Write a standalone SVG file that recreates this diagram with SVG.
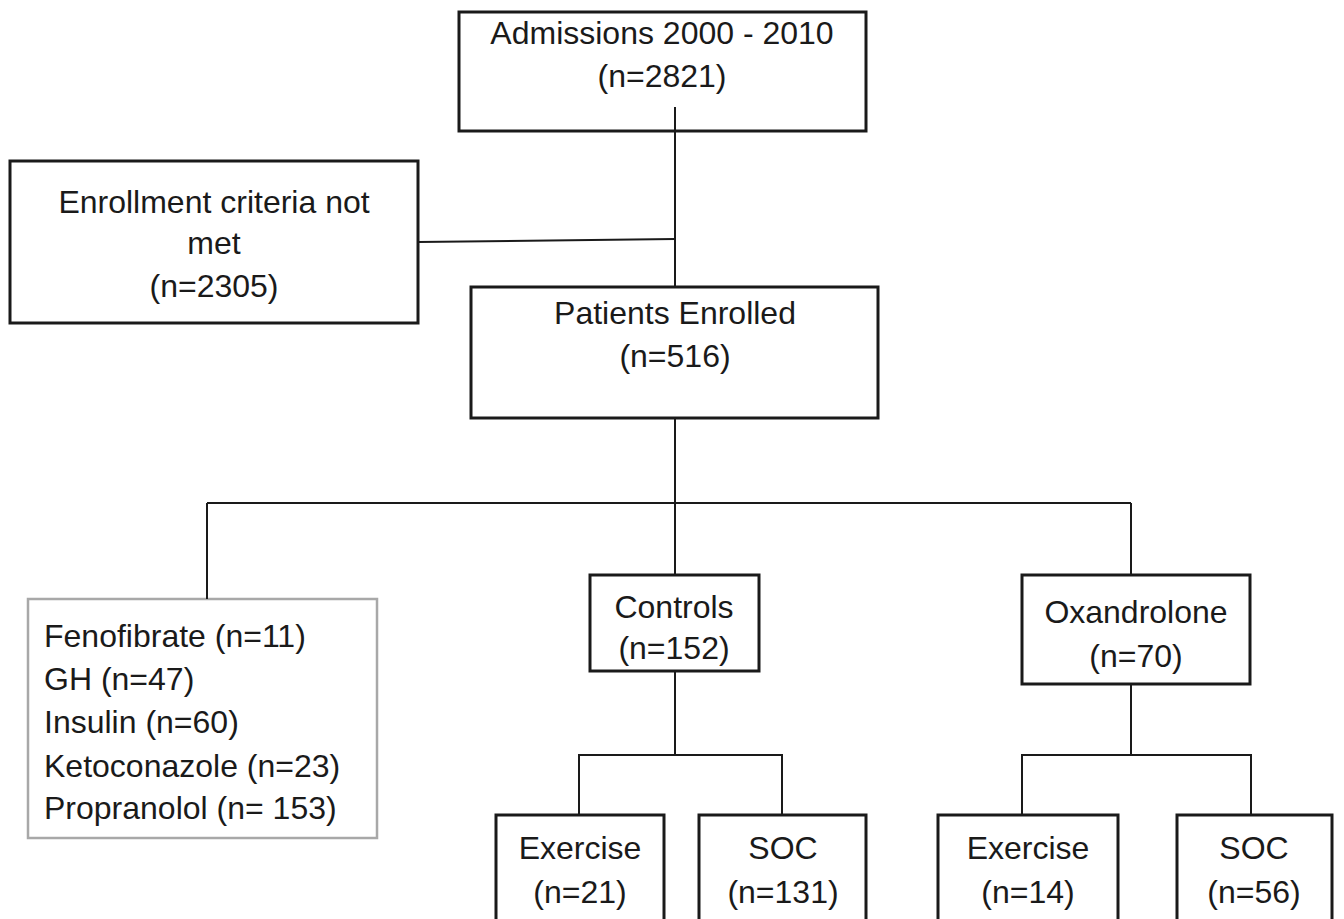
<svg xmlns="http://www.w3.org/2000/svg" width="1344" height="919" viewBox="0 0 1344 919">
<style>
.box{fill:#fff;stroke:#1a1a1a;stroke-width:3}
.gbox{fill:#fff;stroke:#a8a8a8;stroke-width:2.5}
.t{font-family:"Liberation Sans",Arial,sans-serif;font-size:32px;fill:#1a1a1a;text-anchor:middle}
.tl{font-family:"Liberation Sans",Arial,sans-serif;font-size:32px;fill:#1a1a1a}
.c{fill:none;stroke:#1a1a1a;stroke-width:2}
</style>
<rect width="1344" height="919" fill="#fff"/>
<g id="n-admissions">
<rect class="box" x="459" y="12" width="407" height="119"/>
<text class="t" x="662" y="44">Admissions 2000 - 2010</text>
<text class="t" x="662" y="87">(n=2821)</text>
</g>
<g id="n-notmet">
<rect class="box" x="10" y="161" width="408" height="162"/>
<text class="t" x="214" y="213">Enrollment criteria not</text>
<text class="t" x="214" y="254">met</text>
<text class="t" x="214" y="297">(n=2305)</text>
</g>
<g id="n-enrolled">
<rect class="box" x="471" y="287" width="407" height="131"/>
<text class="t" x="675" y="324">Patients Enrolled</text>
<text class="t" x="675" y="367">(n=516)</text>
</g>
<g id="n-other">
<rect class="gbox" x="28" y="599" width="349" height="239"/>
<text class="tl" x="44" y="647">Fenofibrate (n=11)</text>
<text class="tl" x="44" y="690">GH (n=47)</text>
<text class="tl" x="44" y="733">Insulin (n=60)</text>
<text class="tl" x="44" y="777">Ketoconazole (n=23)</text>
<text class="tl" x="44" y="819">Propranolol (n= 153)</text>
</g>
<g id="n-controls">
<rect class="box" x="590" y="575" width="169" height="96"/>
<text class="t" x="674" y="618">Controls</text>
<text class="t" x="674" y="659">(n=152)</text>
</g>
<g id="n-oxandrolone">
<rect class="box" x="1022" y="575" width="228" height="109"/>
<text class="t" x="1136" y="623">Oxandrolone</text>
<text class="t" x="1136" y="667">(n=70)</text>
</g>
<g id="n-ex1">
<rect class="box" x="496" y="815" width="168" height="110"/>
<text class="t" x="580" y="859">Exercise</text>
<text class="t" x="580" y="903">(n=21)</text>
</g>
<g id="n-soc1">
<rect class="box" x="699" y="815" width="167" height="110"/>
<text class="t" x="783" y="859">SOC</text>
<text class="t" x="783" y="903">(n=131)</text>
</g>
<g id="n-ex2">
<rect class="box" x="938" y="815" width="180" height="110"/>
<text class="t" x="1028" y="859">Exercise</text>
<text class="t" x="1028" y="903">(n=14)</text>
</g>
<g id="n-soc2">
<rect class="box" x="1177" y="815" width="155" height="110"/>
<text class="t" x="1254" y="859">SOC</text>
<text class="t" x="1254" y="903">(n=56)</text>
</g>
<g id="connectors">
<path class="c" d="M675 107 V287"/>
<path class="c" d="M418 242 L675 239"/>
<path class="c" d="M675 418 V575"/>
<path class="c" d="M207 503 H1131"/>
<path class="c" d="M207 503 V599"/>
<path class="c" d="M1131 503 V575"/>
<path class="c" d="M675 671 V755 M579 815 V755 H782 V815"/>
<path class="c" d="M1131 684 V755 M1022 815 V755 H1251 V815"/>
</g>
</svg>
